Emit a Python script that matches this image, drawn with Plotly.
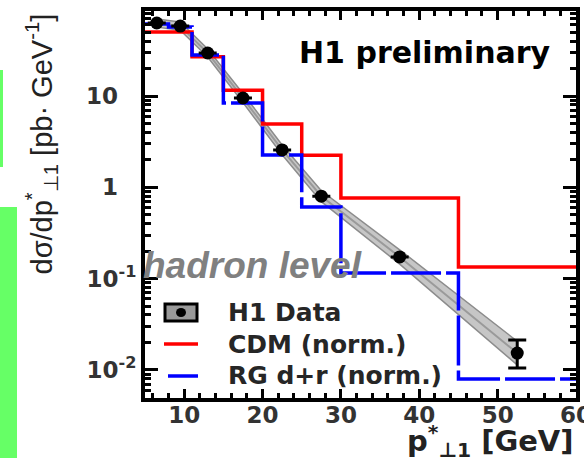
import plotly.graph_objects as go

# ---------------- data ----------------
bin_edges = [5, 8, 11, 15, 20, 25, 30, 45, 60]
cdm_norm = [50.2, 50.2, 27.0, 11.6, 4.94, 2.25, 0.764, 0.134]
rg_norm = [61.4, 57.0, 28.1, 8.38, 2.26, 0.609, 0.1153, 0.00796]

data_x = [6.5, 9.5, 13, 17.5, 22.5, 27.5, 37.5, 52.5]
data_y = [63.0, 58.3, 29.6, 9.51, 2.57, 0.80, 0.173, 0.0153]
err_plus = [0, 0, 0, 0, 0, 0, 0, 0.0060]
err_minus = [0, 0, 0, 0, 0, 0, 0, 0.0048]

band_hi = [69.9, 64.7, 32.8, 10.67, 2.91, 0.918, 0.207, 0.0206]
band_lo = [56.8, 52.6, 26.7, 8.48, 2.27, 0.697, 0.1443, 0.01136]

x_tickvals = [10, 20, 30, 40, 50, 60]
y_tickvals_sup = [0.01, 0.1]
y_ticktext_sup = ["10<sup>-2</sup>", "10<sup>-1</sup>"]
y_tickvals_plain = [1, 10]
y_ticktext_plain = ["1", "10"]
legend_labels = ["H1 Data", "CDM (norm.)", "RG d+r (norm.)"]

# ---------------- geometry helpers (pixel -> paper) ----------------
L, R, T, B = 145, 8, 11, 60
W, H = 584, 458
PW, PH = W - L - R, H - T - B
Y_RANGE = [-2.307, 1.931]


def px(x):
    return (x - L) / PW


def py(y):
    return (H - B - y) / PH


fig = go.Figure()

# band
fig.add_trace(go.Scatter(x=data_x, y=band_lo, mode="lines",
                         line=dict(color="#8c8c8c", width=1.5),
                         hoverinfo="skip"))
fig.add_trace(go.Scatter(x=data_x, y=band_hi, mode="lines",
                         line=dict(color="#8c8c8c", width=1.5),
                         fill="tonexty", fillcolor="#c6c6c6",
                         hoverinfo="skip"))
fig.add_trace(go.Scatter(x=data_x, y=data_y, mode="lines",
                         line=dict(color="#9a9a9a", width=2),
                         hoverinfo="skip"))

# histograms
fig.add_trace(go.Scatter(x=bin_edges, y=cdm_norm + [cdm_norm[-1]],
                         mode="lines", line_shape="hv",
                         line=dict(color="#ff0000", width=3.5),
                         name=legend_labels[1]))
fig.add_trace(go.Scatter(x=bin_edges, y=rg_norm + [rg_norm[-1]],
                         mode="lines", line_shape="hv",
                         line=dict(color="#0000ff", width=3.5,
                                   dash="50px,5px"),
                         name=legend_labels[2]))

# data points (on the overlaying axis, drawn on top)
fig.add_trace(go.Scatter(x=data_x, y=data_y, mode="markers",
                         yaxis="y2",
                         marker=dict(color="black", size=13),
                         error_y=dict(type="data", symmetric=False,
                                      array=err_plus, arrayminus=err_minus,
                                      color="black", thickness=3, width=9),
                         name=legend_labels[0]))

tick_font = dict(family="DejaVu Sans", size=23, color="#333333",
                 weight="bold")

fig.update_layout(
    xaxis=dict(range=[5, 60.0001], showline=True, linewidth=4,
               linecolor="black", mirror="ticks", ticks="inside",
               ticklen=9, tickwidth=3, tickcolor="black",
               tickmode="array", tickvals=x_tickvals, automargin=False,
               ticklabeloverflow="allow", ticklabelstandoff=-7,
               tickfont=tick_font, showgrid=False, zeroline=False,
               minor=dict(ticks="inside", dtick=2, ticklen=5,
                          tickwidth=3, tickcolor="black",
                          showgrid=False)),
    yaxis=dict(type="log", range=Y_RANGE, showline=True,
               linewidth=4, linecolor="black", mirror="ticks",
               ticks="inside", ticklen=13, tickwidth=3,
               tickcolor="black", tickmode="array", automargin=False,
               tickvals=y_tickvals_sup + y_tickvals_plain,
               ticktext=y_ticktext_sup + ["", ""],
               tickfont=tick_font, showgrid=False, zeroline=False,
               minor=dict(ticks="inside", tickmode="array",
                          tickvals=[m * 10 ** k for k in range(-3, 2)
                                    for m in range(2, 10)],
                          ticklen=6, tickwidth=3,
                          tickcolor="black", showgrid=False)),
    yaxis2=dict(type="log", range=Y_RANGE, overlaying="y", side="left",
                anchor="x", showline=False, ticks="", showgrid=False,
                zeroline=False, tickmode="array", automargin=False,
                tickvals=y_tickvals_plain, ticktext=y_ticktext_plain,
                ticklabelstandoff=26, tickfont=tick_font),
)

shapes = []
# green slide artefacts on the left edge
shapes.append(dict(type="rect", xref="paper", yref="paper",
                   x0=px(0), x1=px(3), y0=py(167), y1=py(70),
                   fillcolor="#66ff66", line=dict(width=0), layer="above"))
shapes.append(dict(type="rect", xref="paper", yref="paper",
                   x0=px(0), x1=px(17), y0=py(458), y1=py(207),
                   fillcolor="#66ff66", line=dict(width=0), layer="above"))
# legend symbols
shapes.append(dict(type="rect", xref="paper", yref="paper",
                   x0=px(165), x1=px(197), y0=py(321), y1=py(304),
                   fillcolor="#9a9a9a", line=dict(color="black", width=3),
                   layer="above"))
shapes.append(dict(type="circle", xref="paper", yref="paper",
                   x0=px(176), x1=px(186), y0=py(317), y1=py(308),
                   fillcolor="black", line=dict(width=0), layer="above"))
shapes.append(dict(type="line", xref="paper", yref="paper",
                   x0=px(164), x1=px(198), y0=py(344), y1=py(344),
                   line=dict(color="#ff0000", width=3.5), layer="above"))
shapes.append(dict(type="line", xref="paper", yref="paper",
                   x0=px(168), x1=px(198), y0=py(376), y1=py(376),
                   line=dict(color="#0000ff", width=3.5), layer="above"))

leg_font = dict(family="DejaVu Sans", size=25, color="#262626",
                weight="bold")
annotations = []
for lab, yy in zip(legend_labels, [312, 344, 375]):
    annotations.append(dict(text=lab, xref="paper", yref="paper",
                            x=px(226), y=py(yy), xanchor="left",
                            yanchor="middle", showarrow=False,
                            font=leg_font))

annotations.append(dict(text="H1 preliminary", xref="paper", yref="paper",
                        x=px(297), y=py(53), xanchor="left",
                        yanchor="middle", showarrow=False,
                        font=dict(family="DejaVu Sans", size=30,
                                  color="black", weight="bold")))
annotations.append(dict(text="hadron level", xref="paper", yref="paper",
                        x=px(141), y=py(265.5), xanchor="left",
                        yanchor="middle", showarrow=False,
                        font=dict(family="Liberation Sans", size=37,
                                  color="#808080", weight="bold",
                                  style="italic")))
annotations.append(dict(text="p<sup>*</sup><sub>\u22a51</sub> [GeV]",
                        xref="paper", yref="paper",
                        x=px(576), y=py(441), xanchor="right",
                        yanchor="middle", showarrow=False,
                        font=dict(family="DejaVu Sans", size=29,
                                  color="#222222", weight="bold")))
annotations.append(dict(text="d\u03c3/dp<sup>*</sup><sub>\u22a51</sub> [pb\u00b7 GeV<sup>-1</sup>]",
                        xref="paper", yref="paper",
                        x=px(41), y=py(12), xanchor="center",
                        yanchor="top", textangle=-90, showarrow=False,
                        font=dict(family="Liberation Sans", size=29,
                                  color="#222222")))

fig.update_layout(width=W, height=H,
                  margin=dict(l=L, r=R, t=T, b=B, pad=0),
                  paper_bgcolor="white", plot_bgcolor="white",
                  showlegend=False, shapes=shapes,
                  annotations=annotations)

fig.write_html("out.html")
